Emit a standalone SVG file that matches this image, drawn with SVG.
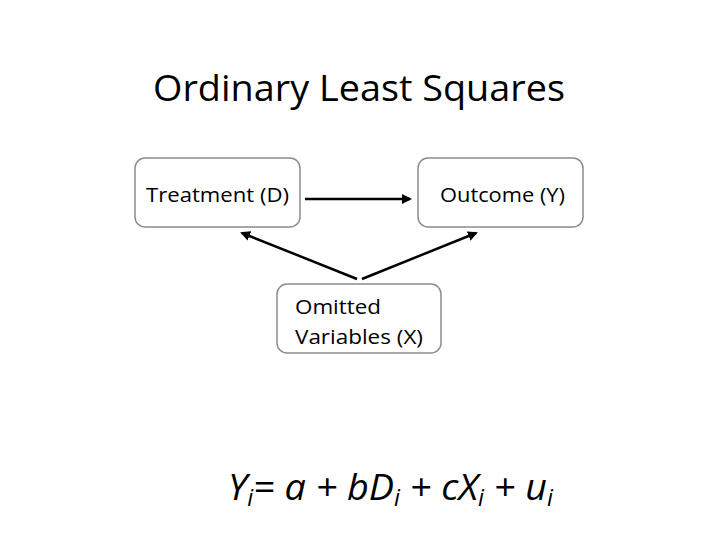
<svg xmlns="http://www.w3.org/2000/svg" width="720" height="540" viewBox="0 0 720 540">
<style>
text{font-family:"Open Sans","Liberation Sans",sans-serif;fill:#000}
.box{fill:#fff;stroke:#8c8c8c;stroke-width:1.5}
.lbl{font-size:20px}
.edge{stroke:#000;stroke-width:2.5;fill:none;marker-end:url(#ah)}
.eq{font-size:37px;font-style:italic}
.sub{font-size:23px}
</style>
<defs>
<marker id="ah" viewBox="0 0 10 10" refX="8" refY="5" markerWidth="4" markerHeight="4" orient="auto" markerUnits="strokeWidth">
<path d="M0,0 L10,5 L0,10 z" fill="#000"/>
</marker>
</defs>
<rect width="720" height="540" fill="#fff"/>
<text x="359" y="101" font-size="36" text-anchor="middle" textLength="412" lengthAdjust="spacingAndGlyphs">Ordinary Least Squares</text>
<g id="treatment">
<rect class="box" x="135" y="158" width="165" height="69" rx="10"/>
<text class="lbl" x="146" y="202" textLength="143" lengthAdjust="spacingAndGlyphs">Treatment (D)</text>
</g>
<g id="outcome">
<rect class="box" x="418" y="158" width="165" height="69" rx="10"/>
<text class="lbl" x="440" y="202" textLength="125" lengthAdjust="spacingAndGlyphs">Outcome (Y)</text>
</g>
<g id="omitted">
<rect class="box" x="277" y="284" width="164" height="69" rx="10"/>
<text class="lbl" x="295" y="314" textLength="86" lengthAdjust="spacingAndGlyphs">Omitted</text>
<text class="lbl" x="295" y="344" textLength="128" lengthAdjust="spacingAndGlyphs">Variables (X)</text>
</g>
<g id="connectors">
<line class="edge" x1="305" y1="199" x2="410" y2="199"/>
<line class="edge" x1="357" y1="279" x2="242" y2="233"/>
<line class="edge" x1="362" y1="279" x2="476" y2="233"/>
</g>
<g id="equation">
<text class="eq" x="228" y="500" textLength="325" lengthAdjust="spacingAndGlyphs">Y<tspan class="sub" dy="6">i</tspan><tspan dy="-6">= a + bD</tspan><tspan class="sub" dy="6">i</tspan><tspan dy="-6"> + cX</tspan><tspan class="sub" dy="6">i</tspan><tspan dy="-6"> + u</tspan><tspan class="sub" dy="6">i</tspan></text>
</g>
</svg>
